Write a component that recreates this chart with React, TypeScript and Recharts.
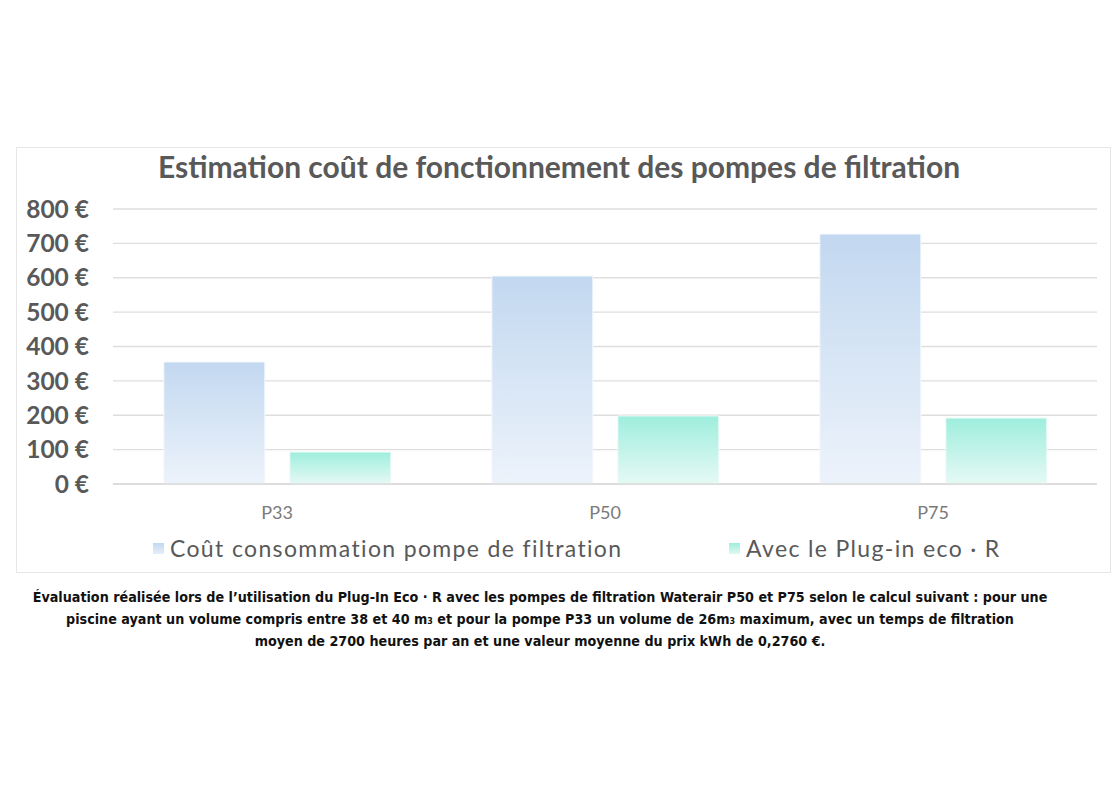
import React from "react";
import { BarChart, Bar, XAxis, YAxis, CartesianGrid } from "recharts";

const categories = ["P33", "P50", "P75"];
const costPompe = [355, 605, 727];
const costPlugIn = [93, 198, 192];
const yTicks = [0, 100, 200, 300, 400, 500, 600, 700, 800];
const seriesNames = ["Coût consommation pompe de filtration", "Avec le Plug-in eco · R"];
const title = "Estimation coût de fonctionnement des pompes de filtration";
const footnoteLines = [
  "Évaluation réalisée lors de l’utilisation du Plug-In Eco · R avec les pompes de filtration Waterair P50 et P75 selon le calcul suivant : pour une",
  "piscine ayant un volume compris entre 38 et 40 m₃ et pour la pompe P33 un volume de 26m₃ maximum,  avec un temps de filtration",
  "moyen de 2700 heures par an et une valeur moyenne du prix kWh de 0,2760 €.",
];

const data = categories.map((c, i) => ({ name: c, a: costPompe[i], b: costPlugIn[i] }));

const FONT = "'Lato', 'DejaVu Sans', sans-serif";

export default function App() {
  return (
    <div style={{ position: "absolute", left: 0, top: 0, width: 1120, height: 800, background: "#fff" }}>
      <div style={{ position: "absolute", left: 16, top: 147, width: 1093, height: 424, border: "1px solid #e6e6e6" }} />
      <div style={{ position: "absolute", left: 0, top: 148, width: 1118, textAlign: "center", fontFamily: FONT, fontWeight: 700, fontSize: 30, color: "#595959" }}>
        {title}
      </div>
      <div style={{ position: "absolute", left: 0, top: 0 }}>
        <BarChart width={1120} height={800} data={data} margin={{ top: 209, bottom: 286, left: 13, right: 23 }} barGap={25} barCategoryGap="15.5%">
          <defs>
            <linearGradient id="gA" x1="0" y1="0" x2="0" y2="1">
              <stop offset="0%" stopColor="#c2d8f0" />
              <stop offset="100%" stopColor="#edf3fb" />
            </linearGradient>
            <linearGradient id="gB" x1="0" y1="0" x2="0" y2="1">
              <stop offset="0%" stopColor="#9eeedd" />
              <stop offset="100%" stopColor="#e6f9f5" />
            </linearGradient>
          </defs>
          <CartesianGrid vertical={false} stroke="#dedede" strokeWidth={1.3} />
          <XAxis dataKey="name" height={30} axisLine={{ stroke: "#d9d9d9", strokeWidth: 1.3 }} tickLine={false} tickMargin={16}
            tick={{ fontFamily: FONT, fontSize: 18, fill: "#7a7a7a" }} />
          <YAxis width={100} domain={[0, 800]} ticks={yTicks} interval={0} axisLine={false} tickLine={false} tickSize={0} tickMargin={24}
            tickFormatter={(v: number) => `${v} €`}
            tick={{ fontFamily: FONT, fontSize: 24.5, fontWeight: 700, fill: "#595959" }} />
          <Bar dataKey="a" name={seriesNames[0]} fill="url(#gA)" stroke="#f4f8fd" isAnimationActive={false} />
          <Bar dataKey="b" name={seriesNames[1]} fill="url(#gB)" stroke="#effcf8" isAnimationActive={false} />
        </BarChart>
      </div>
      <div style={{ position: "absolute", left: 153, top: 543, width: 11, height: 11, background: "linear-gradient(#c2d8f0,#e6effa)" }} />
      <div style={{ position: "absolute", left: 170, top: 533, fontFamily: FONT, fontSize: 23, color: "#595959", letterSpacing: 1.35, whiteSpace: "nowrap", lineHeight: "30px" }}>
        {seriesNames[0]}
      </div>
      <div style={{ position: "absolute", left: 729, top: 543, width: 11, height: 11, background: "linear-gradient(#9eeedd,#e0f8f2)" }} />
      <div style={{ position: "absolute", left: 746, top: 533, fontFamily: FONT, fontSize: 23, color: "#595959", letterSpacing: 1.35, whiteSpace: "nowrap", lineHeight: "30px" }}>
        {seriesNames[1]}
      </div>
      <div style={{ position: "absolute", left: 0, top: 586, width: 1080, textAlign: "center", fontFamily: "'Liberation Sans Narrow', 'DejaVu Sans Condensed', sans-serif", fontWeight: 700, fontSize: 14.2, lineHeight: "22px", color: "#111" }}>
        {footnoteLines.map((l, i) => (<div key={i}>{l}</div>))}
      </div>
    </div>
  );
}
